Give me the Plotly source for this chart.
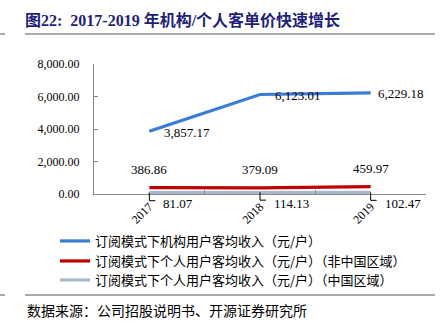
import plotly.graph_objects as go

years = ["2017", "2018", "2019"]
inst = [3857.17, 6123.01, 6229.18]
pers_foreign = [386.86, 379.09, 459.97]
pers_china = [81.07, 114.13, 102.47]
names = [
    "订阅模式下机构用户客均收入（元/户）",
    "订阅模式下个人用户客均收入（元/户）（非中国区域）",
    "订阅模式下个人用户客均收入（元/户）（中国区域）",
]
colors = ["#3A7BD5", "#C00000", "#A7BACB"]
title_text = "图22:  2017-2019 年机构/个人客单价快速增长"
source_text = "数据来源：公司招股说明书、开源证券研究所"
y_ticks = [0, 2000, 4000, 6000, 8000]
y_max = 8000

serif = "Liberation Serif, Times New Roman, serif"
cjk = "Noto Sans CJK SC"

W, H = 444, 326
M = dict(l=94, r=18, t=64, b=132)
plot_w = W - M["l"] - M["r"]
plot_h = H - M["t"] - M["b"]

legend_ids = ["legend", "legend2", "legend3"]
fig = go.Figure()
for vals, nm, c, lg in zip([inst, pers_foreign, pers_china], names, colors, legend_ids):
    fig.add_trace(go.Scatter(x=years, y=vals, name=nm, mode="lines", legend=lg,
                             line=dict(color=c, width=3.2), hoverinfo="skip"))

ann = []
shapes = []
n = len(years)
last = n - 1
for i, v in enumerate(inst):
    ann.append(dict(x=i, y=v, text=f"{v:,.2f}", showarrow=False, xanchor="left",
                    yanchor="middle", xshift=(5 if i == last else 13), yshift=-1,
                    font=dict(family=serif, size=13, color="#000")))
for i, v in enumerate(pers_foreign):
    ann.append(dict(x=i, y=v, text=f"{v:,.2f}", showarrow=False, xanchor="center",
                    yanchor="middle", yshift=18,
                    font=dict(family=serif, size=13, color="#000")))
for i, v in enumerate(pers_china):
    ann.append(dict(x=i, y=v, text=f"{v:,.2f}", showarrow=False, xanchor="left",
                    yanchor="middle", xshift=12, yshift=-11,
                    font=dict(family=serif, size=13, color="#000")))
    # L-shaped leader line from the data point (paper refs -> not clipped)
    px = (i + 0.5) / n
    py = v / y_max
    dy = 8 / plot_h
    dx = 6 / plot_w
    shapes.append(dict(type="path", xref="paper", yref="paper",
                       path=f"M{px},{py} L{px},{py - dy} L{px + dx},{py - dy}",
                       line=dict(color="#000", width=1), layer="above"))

# decorative rules
for yy in [1.2308, -0.777]:
    shapes.append(dict(type="line", xref="paper", yref="paper", x0=-0.2078, x1=1.027,
                       y0=yy, y1=yy, line=dict(color="#555", width=1)))
    shapes.append(dict(type="line", xref="paper", yref="paper", x0=-0.283, x1=-0.268,
                       y0=yy, y1=yy, line=dict(color="#555", width=1)))

ann.append(dict(xref="paper", yref="paper", x=-0.2078, y=-0.892, text=source_text,
                showarrow=False, xanchor="left", yanchor="middle",
                font=dict(family=cjk, size=14, color="#000")))

leg_common = dict(x=-0.1175, xanchor="left", yanchor="middle",
                  font=dict(family=cjk, size=13, color="#000"),
                  itemwidth=30, bgcolor="rgba(0,0,0,0)")
legend_y = [-0.3615, -0.5154, -0.6615]

fig.update_layout(
    width=W, height=H,
    margin=M,
    paper_bgcolor="white", plot_bgcolor="white",
    title=dict(text=title_text, x=25 / W, xanchor="left", xref="container",
               y=1 - 20 / H, yanchor="middle", yref="container",
               font=dict(family=serif + ", " + cjk, size=16, color="#1F1F7A", weight="bold")),
    xaxis=dict(type="category", categoryorder="array", categoryarray=years,
               range=[-0.5, n - 0.5], autorange=False,
               showgrid=False, showline=True, linecolor="#898989",
               linewidth=1, ticks="inside", ticklen=4, tickcolor="#898989",
               tickson="boundaries", tickangle=-45,
               tickfont=dict(family=serif, size=12, color="#000"), zeroline=False),
    yaxis=dict(range=[0, y_max], tickvals=y_ticks,
               ticktext=[f"{t:,.2f}" for t in y_ticks], showgrid=False, showline=True,
               linecolor="#898989", linewidth=1, ticks="inside", ticklen=4,
               tickcolor="#898989", zeroline=False, ticklabelstandoff=11,
               tickfont=dict(family=serif, size=12, color="#000")),
    showlegend=True,
    legend=dict(y=legend_y[0], **leg_common),
    legend2=dict(y=legend_y[1], **leg_common),
    legend3=dict(y=legend_y[2], **leg_common),
    annotations=ann, shapes=shapes,
)
fig.write_html("out.html")
